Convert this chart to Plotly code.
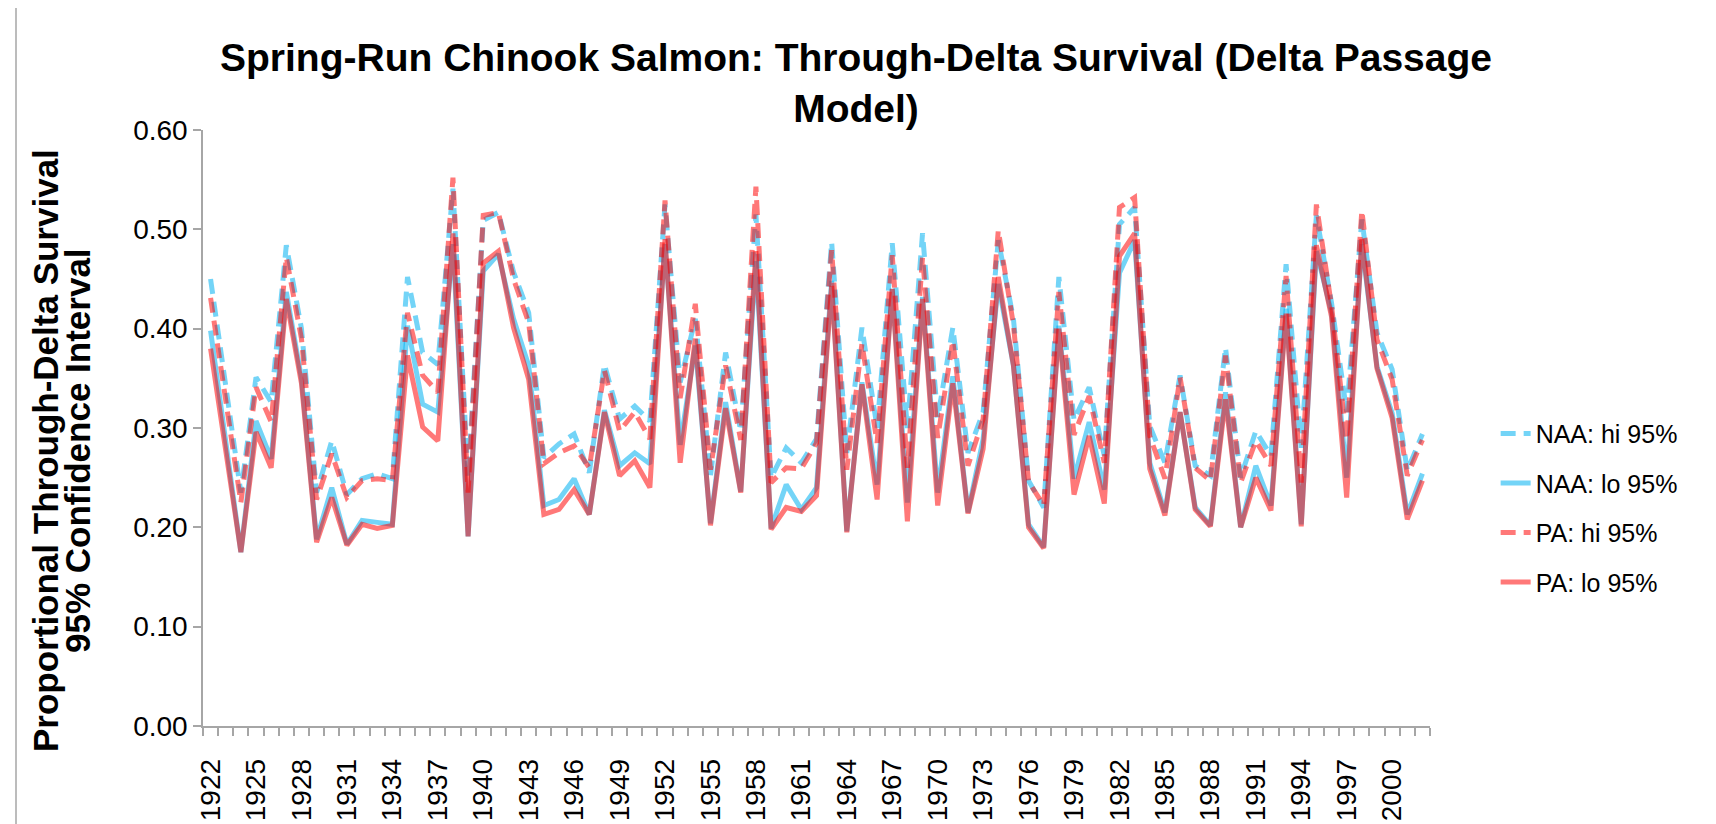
import plotly.graph_objects as go

years = list(range(1922, 2003))

naa_hi = [0.450, 0.340, 0.235, 0.351, 0.326, 0.484, 0.400, 0.235, 0.287, 0.233,
          0.249, 0.254, 0.249, 0.452, 0.376, 0.364, 0.541, 0.250, 0.509, 0.517,
          0.457, 0.416, 0.270, 0.284, 0.294, 0.255, 0.364, 0.309, 0.322, 0.307,
          0.525, 0.346, 0.410, 0.252, 0.376, 0.297, 0.515, 0.250, 0.280, 0.265,
          0.289, 0.487, 0.275, 0.401, 0.300, 0.486, 0.300, 0.496, 0.310, 0.401,
          0.275, 0.316, 0.489, 0.410, 0.247, 0.220, 0.452, 0.308, 0.341, 0.272,
          0.505, 0.522, 0.302, 0.265, 0.353, 0.262, 0.252, 0.381, 0.250, 0.297,
          0.272, 0.465, 0.280, 0.514, 0.426, 0.316, 0.510, 0.396, 0.359, 0.257,
          0.294]

naa_lo = [0.398, 0.286, 0.175, 0.307, 0.269, 0.437, 0.350, 0.188, 0.240, 0.183,
          0.207, 0.205, 0.203, 0.403, 0.324, 0.316, 0.485, 0.191, 0.458, 0.475,
          0.410, 0.363, 0.222, 0.228, 0.249, 0.213, 0.318, 0.262, 0.275, 0.264,
          0.485, 0.283, 0.383, 0.204, 0.326, 0.236, 0.468, 0.199, 0.243, 0.218,
          0.240, 0.448, 0.196, 0.346, 0.243, 0.440, 0.225, 0.432, 0.235, 0.352,
          0.215, 0.289, 0.445, 0.363, 0.203, 0.180, 0.403, 0.249, 0.306, 0.238,
          0.456, 0.489, 0.265, 0.215, 0.316, 0.220, 0.202, 0.336, 0.200, 0.262,
          0.222, 0.420, 0.203, 0.478, 0.416, 0.250, 0.485, 0.362, 0.315, 0.213,
          0.254]

pa_hi = [0.431, 0.330, 0.225, 0.341, 0.306, 0.472, 0.390, 0.228, 0.274, 0.230,
         0.247, 0.249, 0.247, 0.416, 0.353, 0.336, 0.552, 0.235, 0.514, 0.517,
         0.450, 0.406, 0.264, 0.275, 0.282, 0.260, 0.358, 0.297, 0.316, 0.289,
         0.529, 0.330, 0.425, 0.258, 0.363, 0.288, 0.543, 0.245, 0.260, 0.259,
         0.285, 0.479, 0.258, 0.385, 0.285, 0.474, 0.260, 0.472, 0.290, 0.388,
         0.262, 0.309, 0.499, 0.404, 0.246, 0.222, 0.437, 0.293, 0.332, 0.265,
         0.522, 0.532, 0.292, 0.249, 0.351, 0.260, 0.247, 0.373, 0.245, 0.287,
         0.262, 0.453, 0.245, 0.525, 0.423, 0.288, 0.519, 0.389, 0.349, 0.252,
         0.288]

pa_lo = [0.380, 0.277, 0.175, 0.296, 0.260, 0.430, 0.345, 0.185, 0.230, 0.182,
         0.203, 0.199, 0.202, 0.373, 0.301, 0.287, 0.496, 0.191, 0.466, 0.478,
         0.401, 0.349, 0.213, 0.218, 0.238, 0.213, 0.316, 0.252, 0.267, 0.240,
         0.490, 0.265, 0.390, 0.202, 0.320, 0.235, 0.478, 0.198, 0.220, 0.216,
         0.232, 0.443, 0.195, 0.344, 0.228, 0.440, 0.206, 0.430, 0.222, 0.345,
         0.214, 0.279, 0.452, 0.363, 0.200, 0.179, 0.400, 0.233, 0.292, 0.224,
         0.473, 0.496, 0.259, 0.212, 0.316, 0.218, 0.201, 0.329, 0.200, 0.250,
         0.217, 0.415, 0.201, 0.484, 0.412, 0.230, 0.490, 0.360, 0.310, 0.208,
         0.247]

label_years = list(range(1922, 2001, 3))
y_ticks = [0.0, 0.1, 0.2, 0.3, 0.4, 0.5, 0.6]
y_title_lines = ["Proportional Through-Delta Survival", "95% Confidence Interval"]

FONT = "Liberation Sans, Arial, sans-serif"
BLUE = "rgba(0,176,240,0.55)"
RED = "rgba(255,0,0,0.53)"
DASH = "15px,8px"

series = [
    ("NAA: hi 95%", naa_hi, BLUE, DASH),
    ("NAA: lo 95%", naa_lo, BLUE, "solid"),
    ("PA: hi 95%", pa_hi, RED, DASH),
    ("PA: lo 95%", pa_lo, RED, "solid"),
]

fig = go.Figure()
for i, (name, vals, col, dash) in enumerate(series):
    fig.add_trace(go.Scatter(
        x=years, y=vals, name=name, mode="lines",
        legendgroup=f"g{i}",
        line=dict(color=col, width=5, dash=dash),
    ))

L, R, T, B = 195, 294, 122, 106
PW, PH = 1716 - L - R, 824 - T - B

fig.update_layout(
    width=1716, height=824,
    margin=dict(l=L, r=R, t=T, b=B, autoexpand=False),
    paper_bgcolor="white", plot_bgcolor="white",
    font=dict(family=FONT, color="black", size=28),
    title=dict(
        text="<b>Spring-Run Chinook Salmon: Through-Delta Survival (Delta Passage<br>Model)</b>",
        x=0.5 - 10 / 1716, xref="container", xanchor="center",
        y=1 - 63 / 824, yref="container", yanchor="middle",
        font=dict(family=FONT, size=39, color="black"),
    ),
    legend=dict(
        x=1.0535, xanchor="left", y=0.529, yanchor="top",
        font=dict(family=FONT, size=25, color="black"),
        tracegroupgap=14, bgcolor="rgba(0,0,0,0)",
    ),
    showlegend=True,
)

fig.update_xaxes(
    range=[1921.5, 2002.5], automargin=False,
    tickmode="array", tickvals=label_years, ticktext=[str(y) for y in label_years],
    tickangle=-90, ticks="", ticklabelstandoff=20,
    tickfont=dict(family=FONT, size=28, color="black"),
    showline=True, linecolor="#A6A6A6", linewidth=1.5,
    showgrid=False, zeroline=False,
    minor=dict(ticks="outside", tick0=1921.5, dtick=1, ticklen=8,
               tickcolor="#A6A6A6", tickwidth=1.5, showgrid=False),
)

fig.update_yaxes(
    range=[0, 0.6], automargin=False,
    tickmode="array", tickvals=y_ticks, tickformat=".2f",
    ticks="outside", ticklen=8, tickcolor="#A6A6A6", tickwidth=1.5,
    tickfont=dict(family=FONT, size=28, color="black"),
    showline=True, linecolor="#A6A6A6", linewidth=1.5,
    showgrid=False, zeroline=False,
)

# two-line y-axis title with tight line spacing
for cx, txt in zip([37, 69], y_title_lines):
    fig.add_annotation(
        text=f"<b>{txt}</b>", textangle=-90, showarrow=False,
        xref="paper", yref="paper",
        x=(cx - L) / PW, y=1 - (443 - T) / PH,
        xanchor="center", yanchor="middle",
        font=dict(family=FONT, size=35, color="black"),
    )

fig.add_shape(type="line", xref="paper", yref="paper",
              x0=(8 - L) / PW, x1=(8 - L) / PW,
              y0=-B / PH, y1=1 + T / PH,
              line=dict(color="#A6A6A6", width=1.5))

fig.write_html("out.html")
